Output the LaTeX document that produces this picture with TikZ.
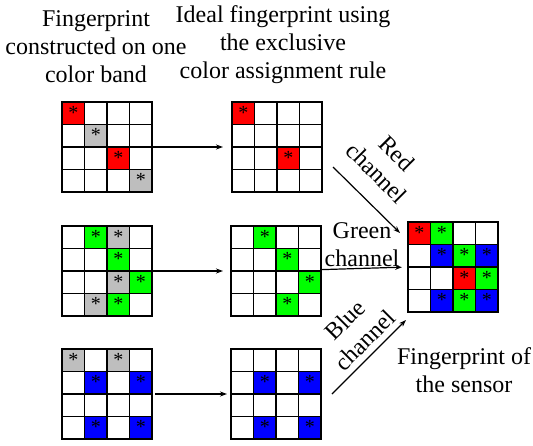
\documentclass[tikz,border=0pt]{standalone}
\usepackage{fontspec}
\setmainfont{Liberation Serif}
\usetikzlibrary{positioning,calc,arrows.meta}
\definecolor{fpred}{RGB}{255,0,0}
\definecolor{fpgreen}{RGB}{0,255,0}
\definecolor{fpblue}{RGB}{0,0,255}
\definecolor{fpgray}{RGB}{190,190,190}
\newcommand{\cellsz}{22.5}
\tikzset{grid node/.style={rectangle, minimum size=90pt, inner sep=0pt, outer sep=0pt},
  grid line/.style={line width=1.6pt, black, line cap=rect},
  star node/.style={anchor=base, inner sep=0pt, font=\fontsize{20}{20}\selectfont},
  label node/.style={align=center, inner sep=0pt, font=\fontsize{24}{28}\selectfont},
  chan arrow/.style={-{Stealth[length=7pt,width=5pt]}, line width=1.2pt},}

% one 4x4 fingerprint: name, centre, marked cells (row/col/colour)
\newcommand{\fpgrid}[3]{%
  \node[grid node] (#1) at (#2) {};
  \foreach \r/\c/\col in {#3} {
    \fill[\col] ($(#1.north west)+(\c*\cellsz,\r*\cellsz)$) rectangle ++(\cellsz,\cellsz);
    \node[star node] at ($(#1.north west)+(\c*\cellsz+0.5*\cellsz,\r*\cellsz+17)$) {*};
  }
  \foreach \i in {0,...,4} {
    \draw[grid line] ($(#1.north west)+(\i*\cellsz,0)$) -- ++(0,90);
    \draw[grid line] ($(#1.north west)+(0,\i*\cellsz)$) -- ++(90,0);
  }
}

\begin{document}
\begin{tikzpicture}[x=1pt, y=-1pt]
        \useasboundingbox (0,0) rectangle (533,445);
        % Titles
        \node[label node, anchor=base] (t1) at (96,82) {Fingerprint\\constructed on one\\color band};
        \node[label node, anchor=base] (t2) at (283,78) {Ideal fingerprint using\\the exclusive\\color assignment rule};
        % Grids
        \fpgrid{r1}{107,147}{0/0/fpred, 1/1/fpgray, 2/2/fpred, 3/3/fpgray}
        \fpgrid{r2}{277,147}{0/0/fpred, 2/2/fpred}
        \fpgrid{g1}{107,271}{0/1/fpgreen, 0/2/fpgray, 1/2/fpgreen, 2/2/fpgray, 2/3/fpgreen, 3/1/fpgray, 3/2/fpgreen}
        \fpgrid{g2}{276,271}{0/1/fpgreen, 1/2/fpgreen, 2/3/fpgreen, 3/2/fpgreen}
        \fpgrid{b1}{107,394}{0/0/fpgray, 0/2/fpgray, 1/1/fpblue, 1/3/fpblue, 3/1/fpblue, 3/3/fpblue}
        \fpgrid{b2}{276,394}{1/1/fpblue, 1/3/fpblue, 3/1/fpblue, 3/3/fpblue}
        \fpgrid{fin}{453,267}{0/0/fpred, 0/1/fpgreen, 1/1/fpblue, 1/2/fpgreen, 1/3/fpblue, 2/2/fpred, 2/3/fpgreen, 3/1/fpblue, 3/2/fpgreen, 3/3/fpblue}
        % Channel labels
        \node[label node, rotate=-45] (redlab) at (387,163) {Red\\channel};
        \node[label node] (greenlab) at (362,245) {Green\\channel};
        \node[label node, rotate=45] (bluelab) at (355,330) {Blue\\channel};
        \node[label node, anchor=base] (sensorlab) at (464,392) {Fingerprint of\\the sensor};
        % Paths
        \coordinate (redtail) at (333,167);
        \coordinate (bluetail) at (332,394);
        \draw[chan arrow, shorten >=9pt] (r1) -- (r2);
        \draw[chan arrow, shorten >=8pt] (g1) -- (g2);
        \draw[chan arrow, shorten <=3pt, shorten >=4pt] (b1) -- (b2);
        \draw[chan arrow] (redtail) -- ([shift={(-8,11)}]fin.north west);
        \draw[chan arrow, shorten >=6pt] (g2) -- (fin.west);
        \draw[chan arrow] (bluetail) -- ([shift={(-2,8)}]fin.south west);
\end{tikzpicture}
\end{document}
